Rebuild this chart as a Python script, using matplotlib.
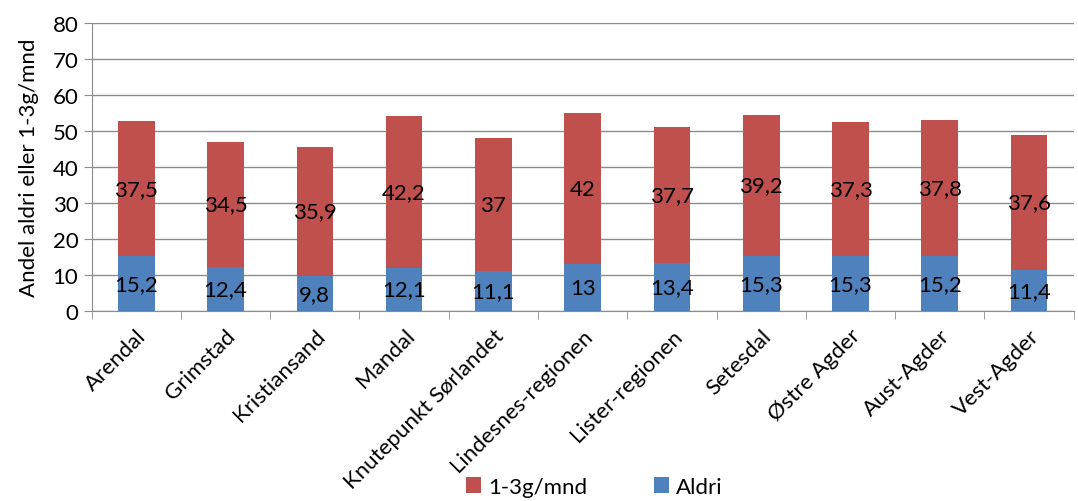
import numpy as np
import matplotlib.pyplot as plt

plt.rcParams['font.family'] = ['Lato', 'DejaVu Sans']

steder = ['Arendal', 'Grimstad', 'Kristiansand', 'Mandal', 'Knutepunkt Sørlandet',
          'Lindesnes-regionen', 'Lister-regionen', 'Setesdal', 'Østre Agder',
          'Aust-Agder', 'Vest-Agder']
aldri = [15.2, 12.4, 9.8, 12.1, 11.1, 13, 13.4, 15.3, 15.3, 15.2, 11.4]
en_tre = [37.5, 34.5, 35.9, 42.2, 37, 42, 37.7, 39.2, 37.3, 37.8, 37.6]

blue = '#4F81BD'
red = '#C0504D'

def fmt(v):
    return f'{v:g}'.replace('.', ',')

fig = plt.figure(figsize=(10.78, 5.02), dpi=100)
ax = fig.add_axes([0.085, 0.378, 0.911, 0.574])

x = np.arange(len(steder))
b1 = ax.bar(x, aldri, width=0.41, color=blue, label='Aldri', zorder=3)
b2 = ax.bar(x, en_tre, width=0.41, bottom=aldri, color=red, label='1-3g/mnd', zorder=3)

for i in range(len(steder)):
    ax.text(x[i], aldri[i] / 2, fmt(aldri[i]), ha='center', va='center', fontsize=16, zorder=4)
    ax.text(x[i], aldri[i] + en_tre[i] / 2, fmt(en_tre[i]), ha='center', va='center', fontsize=16, zorder=4)

ax.set_ylim(0, 80)
ax.set_yticks(range(0, 81, 10))
ax.set_xlim(-0.5, len(steder) - 0.5)
ax.yaxis.grid(True, color='#8c8c8c', linewidth=1)
ax.set_axisbelow(True)

ax.set_xticks(x)
ax.set_xticklabels(steder, rotation=45, ha='right', rotation_mode='anchor', fontsize=16)
ax.tick_params(axis='x', length=0, pad=10)
ax.set_xticks(np.arange(-0.5, len(steder), 1), minor=True)
ax.tick_params(axis='x', which='minor', length=6, color='#8c8c8c', direction='out')
ax.tick_params(axis='y', labelsize=16, length=6, color='#8c8c8c')

for s in ['top', 'right']:
    ax.spines[s].set_visible(False)
ax.spines['left'].set_color('#8c8c8c')
ax.spines['bottom'].set_color('#8c8c8c')

ax.set_ylabel('Andel aldri eller 1-3g/mnd', fontsize=16, labelpad=10)

fig.legend(handles=[b2, b1], loc='center', bbox_to_anchor=(0.551, 0.028), ncol=2,
           frameon=False, fontsize=16, handlelength=0.7, handleheight=0.7,
           columnspacing=3, handletextpad=0.3, borderpad=0)

fig.savefig('out.png', dpi=100)
